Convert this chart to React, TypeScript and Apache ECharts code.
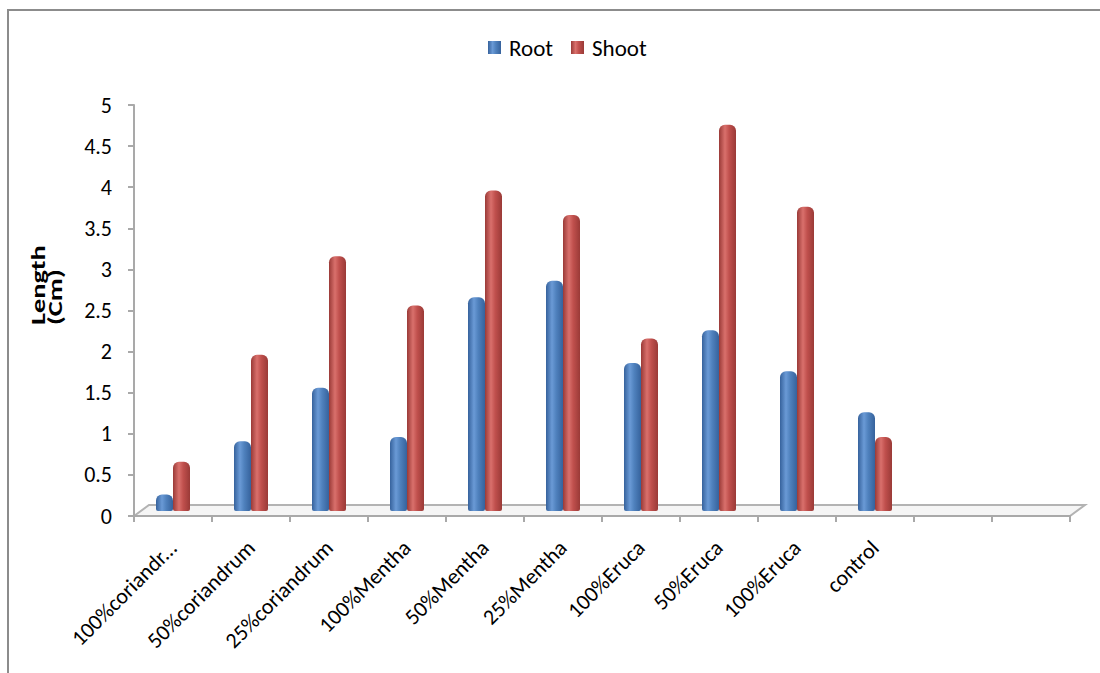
import React, { useEffect, useRef } from "react";
import * as echarts from "echarts";

const categories = [
  "100%coriandr...",
  "50%coriandrum",
  "25%coriandrum",
  "100%Mentha",
  "50%Mentha",
  "25%Mentha",
  "100%Eruca",
  "50%Eruca",
  "100%Eruca",
  "control",
  "",
  "",
];
const rootValues = [0.2, 0.85, 1.5, 0.9, 2.6, 2.8, 1.8, 2.2, 1.7, 1.2];
const shootValues = [0.6, 1.9, 3.1, 2.5, 3.9, 3.6, 2.1, 4.7, 3.7, 0.9];
const seriesNames = ["Root", "Shoot"];
const yTicks = { min: 0, max: 5, interval: 0.5 };

const FONT = "Carlito, Lato, 'Liberation Sans', sans-serif";

const W = 1100;
const H = 673;
const AX_LEFT = 134;
const AX_RIGHT = 1070;
const AX_TOP = 105;
const AX_BOTTOM = 516;
const DEPTH_X = 15;
const DEPTH_Y = 11;
const BAR_BASE = 511;

function cyl(dark: string, mid: string, light: string) {
  return new echarts.graphic.LinearGradient(0, 0, 1, 0, [
    { offset: 0, color: dark },
    { offset: 0.35, color: light },
    { offset: 0.6, color: mid },
    { offset: 1, color: dark },
  ]);
}

export default function App() {
  const ref = useRef<HTMLDivElement>(null);
  useEffect(() => {
    document.body.style.margin = "0";
    if (!ref.current) return;
    const chart = echarts.init(ref.current, null, { renderer: "svg" });
    const axisH = AX_BOTTOM - AX_TOP;
    chart.setOption({
      animation: false,
      backgroundColor: "#ffffff",
      legend: {
        data: seriesNames,
        top: 31,
        left: 483,
        itemWidth: 13,
        itemHeight: 13,
        itemGap: 18,
        icon: "rect",
        textStyle: { fontFamily: FONT, fontSize: 23, color: "#000", padding: [0, 0, 0, 3] },
      },
      grid: [
        { left: AX_LEFT, right: W - AX_RIGHT, top: AX_TOP, height: axisH, containLabel: false },
        { left: AX_LEFT, right: W - AX_RIGHT, top: BAR_BASE - axisH, height: axisH, containLabel: false },
      ],
      xAxis: [
        {
          type: "category",
          gridIndex: 0,
          data: categories,
          axisLine: { show: true, lineStyle: { color: "#a9a9a9", width: 2 } },
          axisTick: { show: true, length: 6, lineStyle: { color: "#a9a9a9", width: 2 } },
          axisLabel: {
            rotate: 45,
            margin: 28,
            interval: 0,
            fontFamily: FONT,
            fontSize: 22,
            color: "#000",
          },
          splitLine: { show: false },
        },
        {
          type: "category",
          gridIndex: 1,
          data: categories,
          show: false,
        },
      ],
      yAxis: [
        {
          type: "value",
          gridIndex: 0,
          min: yTicks.min,
          max: yTicks.max,
          interval: yTicks.interval,
          axisLine: { show: true, lineStyle: { color: "#a9a9a9", width: 2 } },
          axisTick: { show: true, length: 6, lineStyle: { color: "#a9a9a9", width: 2 } },
          axisLabel: { margin: 22, fontFamily: FONT, fontSize: 22, color: "#000" },
          splitLine: { show: false },
        },
        {
          type: "value",
          gridIndex: 1,
          min: yTicks.min,
          max: yTicks.max,
          interval: yTicks.interval,
          show: false,
          splitLine: { show: false },
        },
      ],
      graphic: [
        {
          type: "rect",
          z: -10,
          silent: true,
          shape: { x: 8, y: 10, width: 1200, height: 1000 },
          style: { fill: "none", stroke: "#8c8c8c", lineWidth: 2 },
        },
        {
          type: "polygon",
          z: 0,
          silent: true,
          shape: {
            points: [
              [AX_LEFT, AX_BOTTOM],
              [AX_LEFT + DEPTH_X, AX_BOTTOM - DEPTH_Y],
              [AX_RIGHT + DEPTH_X, AX_BOTTOM - DEPTH_Y],
              [AX_RIGHT, AX_BOTTOM],
            ],
          },
          style: { fill: "#f5f5f5", stroke: "#b3b3b3", lineWidth: 2 },
        },
        {
          type: "text",
          x: 46,
          y: 325,
          rotation: Math.PI / 2,
          scaleX: 1.35,
          style: {
            text: "Length\n(Cm)",
            fontFamily: FONT,
            fontSize: 21,
            fontWeight: "bold",
            lineHeight: 17,
            fill: "#000",
            align: "left",
            verticalAlign: "middle",
          },
        },
      ],
      series: [
        {
          name: seriesNames[0],
          type: "bar",
          xAxisIndex: 1,
          yAxisIndex: 1,
          data: rootValues,
          barWidth: 17,
          barGap: "0%",
          z: 5,
          itemStyle: {
            color: cyl("#36629c", "#4f81bd", "#6a9ad6"),
            borderRadius: [6, 6, 2, 2],
          },
        },
        {
          name: seriesNames[1],
          type: "bar",
          xAxisIndex: 1,
          yAxisIndex: 1,
          data: shootValues,
          barWidth: 17,
          barGap: "0%",
          z: 5,
          itemStyle: {
            color: cyl("#9a3a37", "#c0504d", "#d9706c"),
            borderRadius: [6, 6, 2, 2],
          },
        },
      ],
    });
    return () => chart.dispose();
  }, []);
  return <div ref={ref} style={{ width: W, height: H }} />;
}
